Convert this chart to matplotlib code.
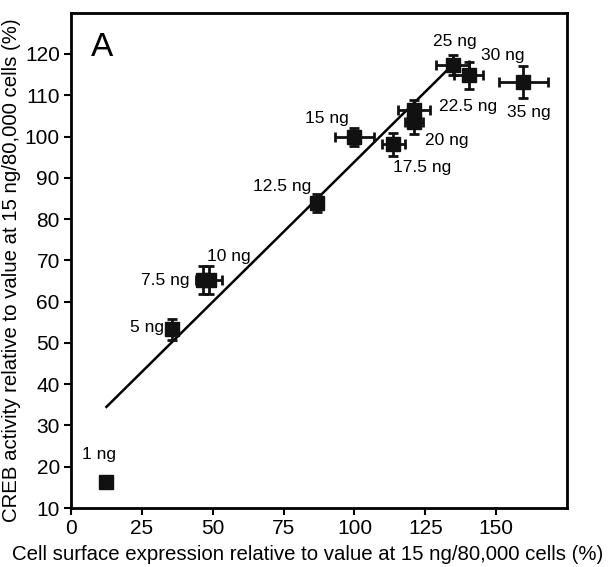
import numpy as np
import matplotlib
matplotlib.use("Agg")
import matplotlib.pyplot as plt

plt.rcParams['font.family'] = ['Liberation Sans', 'DejaVu Sans']

# Data
labels = ["1 ng", "5 ng", "7.5 ng", "10 ng", "12.5 ng", "15 ng", "17.5 ng",
          "20 ng", "22.5 ng", "25 ng", "30 ng", "35 ng"]
surface = [12.5, 35.8, 46.6, 48.6, 86.9, 100.0, 113.7, 121.0, 121.0, 134.6, 140.3, 159.6]
surface_err = [0.0, 0.0, 1.0, 4.6, 0.0, 7.0, 4.0, 3.0, 5.7, 5.9, 5.2, 8.5]
creb = [16.4, 53.3, 65.2, 65.2, 83.9, 99.8, 98.1, 103.5, 106.4, 117.3, 114.8, 113.2]
creb_err = [0.0, 2.5, 3.4, 3.4, 2.1, 2.2, 2.7, 3.0, 2.4, 2.5, 3.3, 3.8]

# regression line ends
fit_x = [12.5, 134.5]
fit_y = [34.5, 117.3]

# label offsets in pixels (dx, dy)
label_offsets = [(-7, 27), (-25, 2), (-38, 0), (20, 24), (-35, 16), (-28, 19),
                 (29, -23), (33, -18), (54, 4), (2, 24), (34, 20), (5, -30)]

fig = plt.figure(figsize=(6.14, 5.67), dpi=100)
ax = fig.add_axes([0.1156, 0.104, 0.808, 0.8736])

ax.plot(fit_x, fit_y, color='black', lw=1.8, zorder=2)
ax.errorbar(surface, creb, xerr=surface_err, yerr=creb_err, fmt='s',
            color='#111111', ms=10.5, elinewidth=2, capsize=3.5, capthick=2, zorder=3)

for x, y, lab, (dx, dy) in zip(surface, creb, labels, label_offsets):
    ax.annotate(lab, (x, y), xytext=(dx, dy), textcoords='offset pixels',
                ha='center', va='center', fontsize=12.5)

ax.text(0.04, 0.93, "A", transform=ax.transAxes, fontsize=24, ha='left', va='center')

ax.set_xlim(0, 175)
ax.set_ylim(10, 130)
ax.set_xticks([0, 25, 50, 75, 100, 125, 150])
ax.set_yticks(np.arange(10, 121, 10))
ax.tick_params(direction='out', length=5, width=1.5, labelsize=15, pad=3)
for s in ax.spines.values():
    s.set_linewidth(2)

ax.set_xlabel("Cell surface expression relative to value at 15 ng/80,000 cells (%)",
              fontsize=14.7)
ax.set_ylabel("CREB activity relative to value at 15 ng/80,000 cells (%)",
              fontsize=14.7)
ax.xaxis.set_label_coords(0.476, -0.075)
ax.yaxis.set_label_coords(-0.1, 0.48)

fig.savefig("out.png", dpi=100)
